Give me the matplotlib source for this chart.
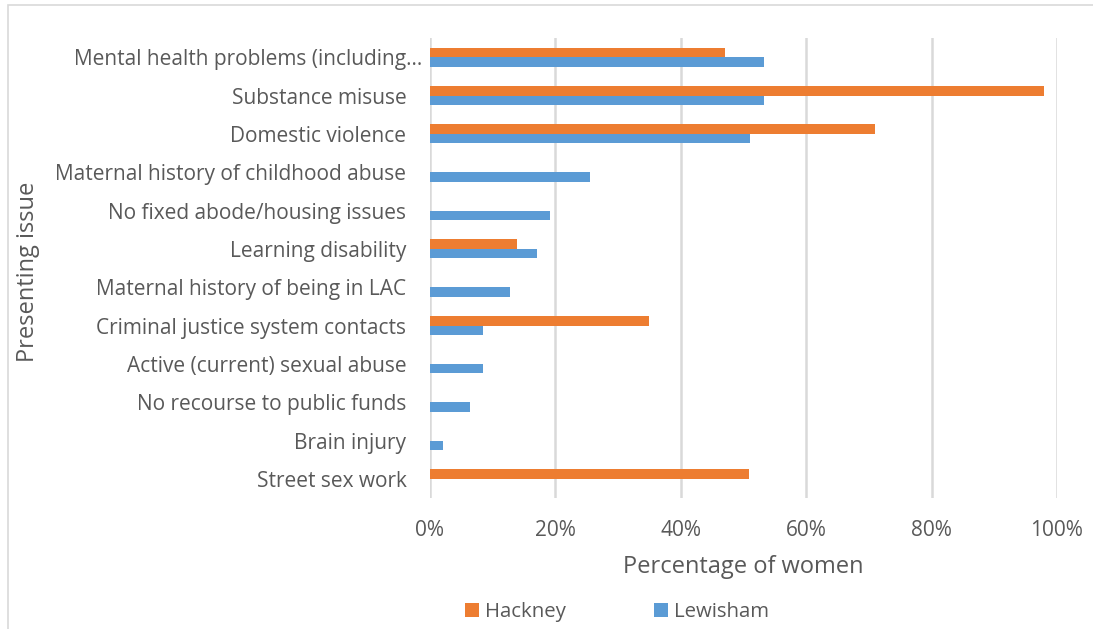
import numpy as np
import matplotlib
matplotlib.use("Agg")
import matplotlib.pyplot as plt
import matplotlib.transforms as mtransforms
from matplotlib.patches import Rectangle
from matplotlib.ticker import PercentFormatter

issues = [
    "Mental health problems (including…",
    "Substance misuse",
    "Domestic violence",
    "Maternal history of childhood abuse",
    "No fixed abode/housing issues",
    "Learning disability",
    "Maternal history of being in LAC",
    "Criminal justice system contacts",
    "Active (current) sexual abuse",
    "No recourse to public funds",
    "Brain injury",
    "Street sex work",
]
hackney = [47, 98, 71, 0, 0, 13.9, 0, 34.9, 0, 0, 0, 50.9]
lewisham = [53.2, 53.2, 51.1, 25.5, 19.1, 17.0, 12.7, 8.5, 8.5, 6.4, 2.1, 0]
xticks = [0, 20, 40, 60, 80, 100]

ORANGE = "#ED7D31"
BLUE = "#5B9BD5"
TXT = "#595959"
GRID = "#D9D9D9"

plt.rcParams["font.family"] = ["Open Sans", "DejaVu Sans"]

W, H = 1093, 629
fig = plt.figure(figsize=(W / 100, H / 100), dpi=100)
ax = fig.add_axes([430 / W, 1 - 498 / H, (1057 - 430) / W, (498 - 38) / H])

y = np.arange(len(issues))
bh = 0.25
hv = np.array(hackney)
lv = np.array(lewisham)
ax.barh(y[hv > 0] - bh / 2, hv[hv > 0], height=bh, color=ORANGE, label="Hackney")
ax.barh(y[lv > 0] + bh / 2, lv[lv > 0], height=bh, color=BLUE, label="Lewisham")

ax.set_ylim(len(issues) - 0.5, -0.5)
ax.set_xlim(0, 100)
ax.set_xticks(xticks)
ax.xaxis.set_major_formatter(PercentFormatter(decimals=0))
ax.set_yticks(y)
ax.set_yticklabels(issues)
ax.tick_params(axis="both", length=0, colors=TXT, labelsize=15)
ax.tick_params(axis="y", pad=17)
ax.tick_params(axis="x", pad=16)
ax.grid(axis="x", color=GRID, lw=1.8)
ax.set_axisbelow(True)
for s in ax.spines.values():
    s.set_visible(False)

# the truncated first label sits a bit further right in the original
lbl = ax.get_yticklabels()[0]
lbl.set_transform(lbl.get_transform() +
                  mtransforms.ScaledTranslation(16 / 100, 0, fig.dpi_scale_trans))

ax.set_xlabel("Percentage of women", color=TXT, fontsize=17, labelpad=10)
ax.set_ylabel("Presenting issue", color=TXT, fontsize=17)
ax.yaxis.set_label_coords(-390 / 627, 0.491)

ax.legend(loc="center", bbox_to_anchor=(0.298, -0.248), ncol=2, frameon=False,
          fontsize=14.7, labelcolor=TXT, handlelength=0.69, handleheight=0.69,
          handletextpad=0.3, columnspacing=4.3)

fig.patches.append(Rectangle((7.5 / W, -0.01), 1.02, 1 - 5 / H + 0.01,
                             transform=fig.transFigure, fill=False,
                             edgecolor=GRID, lw=1.2))

fig.savefig("out.png", dpi=100)
